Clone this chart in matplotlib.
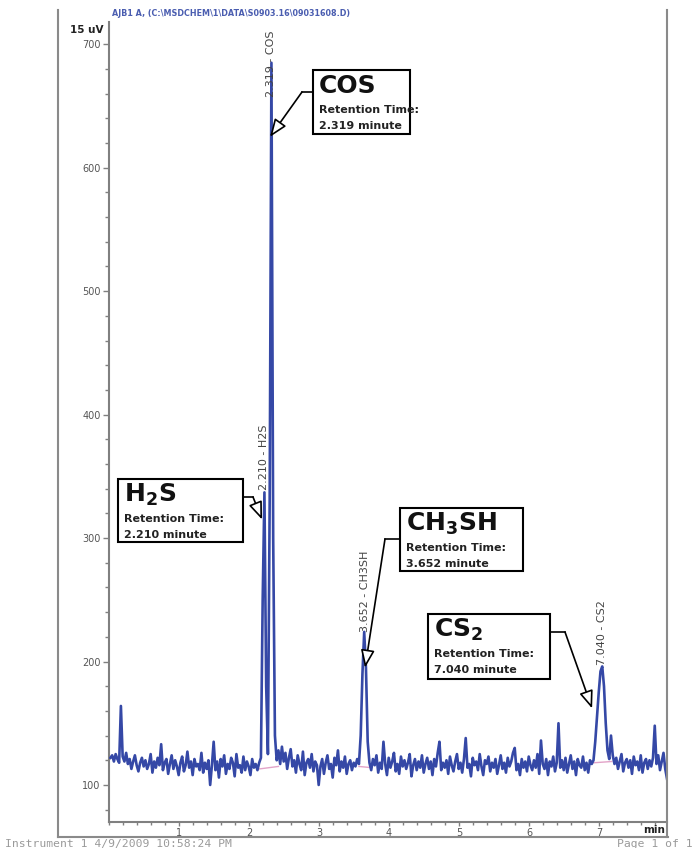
import numpy as np
import matplotlib
matplotlib.use('Agg')
import matplotlib.pyplot as plt
from matplotlib.lines import Line2D
from matplotlib.patches import Rectangle
from matplotlib.ticker import MultipleLocator

plt.rcParams['font.family'] = ['DejaVu Sans']
plt.rcParams['mathtext.fontset'] = 'dejavusans'

# ---------------- data ----------------
t_start, t_step = 0.02, 0.025
signal = [
    122, 124, 119, 125, 121, 118, 164, 123, 119, 126, 117, 121, 113, 119, 124, 116, 111, 118, 122, 115,
    120, 113, 117, 125, 110, 119, 114, 122, 116, 133, 112, 118, 121, 109, 117, 124, 113, 120, 115, 108,
    118, 123, 111, 116, 127, 114, 119, 108, 121, 115, 117, 112, 126, 110, 118, 113, 120, 100, 116, 135,
    112, 119, 106, 121, 115, 124, 109, 117, 113, 122, 118, 107, 125, 114, 116, 110, 123, 112, 119, 115,
    108, 121, 114, 117, 112, 118, 122, 250, 337, 180, 125, 330, 685, 300, 140, 120, 128, 117, 131, 119,
    126, 113, 122, 129, 115, 120, 110, 124, 117, 112, 127, 108, 118, 121, 114, 125, 111, 119, 116, 100,
    115, 121, 109, 118, 124, 113, 117, 106, 122, 116, 128, 111, 119, 114, 123, 109, 117, 120, 112, 118,
    115, 121, 117, 140, 190, 224, 195, 135, 118, 112, 121, 116, 124, 110, 118, 113, 135, 117, 108, 122,
    114, 119, 126, 111, 117, 109, 123, 115, 120, 113, 118, 125, 107, 116, 121, 112, 119, 114, 124, 110,
    117, 122, 113, 119, 108, 121, 115, 126, 135, 112, 118, 114, 120, 109, 123, 116, 111, 119, 125, 113,
    118, 110, 121, 138, 114, 117, 107, 122, 116, 119, 112, 125, 115, 108, 120, 117, 123, 111, 118, 114,
    121, 109, 116, 124, 113, 118, 110, 122, 115, 119, 126, 130, 112, 117, 108, 121, 114, 119, 111, 123,
    116, 112, 120, 114, 125, 109, 136, 117, 113, 121, 108, 119, 115, 123, 111, 118, 150, 114, 120, 112,
    122, 110, 117, 124, 113, 119, 108, 121, 116, 114, 123, 112, 118, 110, 120, 117, 120, 135, 155, 175,
    192, 196, 180, 150, 128, 121, 140, 124, 117, 122, 113, 119, 125, 111, 118, 121, 114, 120, 109, 123,
    116, 119, 112, 124, 110, 118, 121, 113, 120, 115, 122, 148, 117, 124, 112, 119, 126, 113, 105,
]
time = t_start + t_step * np.arange(len(signal))

peak_names = ['H2S', 'COS', 'CH3SH', 'CS2']
peak_rt = [2.210, 2.319, 3.652, 7.040]
peak_titles = [r'$\mathbf{H_2S}$', 'COS', r'$\mathbf{CH_3SH}$', r'$\mathbf{CS_2}$']

# integration baselines (start time, start value, end time, end value)
base_t0 = [2.15, 3.57, 6.93]
base_y0 = [113, 115, 118]
base_t1 = [2.42, 3.75, 7.18]
base_y1 = [115, 114, 119]

x_ticks = [1, 2, 3, 4, 5, 6, 7]
y_ticks = [100, 200, 300, 400, 500, 600, 700]

# ---------------- layout ----------------
W, H = 695, 848
fig = plt.figure(figsize=(W / 100, H / 100), dpi=100)
def fx(px): return px / W
def fy(py): return 1 - py / H

ax = fig.add_axes([fx(109), fy(822), fx(667) - fx(109), fy(22) - fy(822)])
ax.set_xlim(0, 7.97)
ax.set_ylim(70, 718)

line_col = '#3548a6'
ax.plot(time, signal, color=line_col, lw=1.9, zorder=3)
for a, b, c, d in zip(base_t0, base_y0, base_t1, base_y1):
    ax.plot([a, c], [b, d], color='#e2a3c8', lw=1.0, zorder=2)

for s in ['top', 'right']:
    ax.spines[s].set_visible(False)
for s in ['left', 'bottom']:
    ax.spines[s].set_color('#808080')
    ax.spines[s].set_linewidth(1.5)

ax.set_xticks(x_ticks)
ax.set_yticks(y_ticks)
ax.xaxis.set_minor_locator(MultipleLocator(0.2))
ax.yaxis.set_minor_locator(MultipleLocator(20))
ax.tick_params(which='both', direction='out', color='#808080', width=1,
               labelsize=7, labelcolor='#555555')
ax.tick_params(which='major', length=4, pad=2)
ax.tick_params(which='minor', length=3)
ax.tick_params(axis='x', which='major', length=3, pad=1)
ax.tick_params(axis='x', which='minor', length=2)

# rotated peak labels
label_base = [339, 657, 224, 197]
for name, rt, yb in zip(peak_names, peak_rt, label_base):
    ax.text(rt, yb, f'{rt:.3f} - {name}', rotation=90, ha='center', va='bottom',
            fontsize=8, color='#444444', zorder=4)

# annotation boxes: (left, top, right, bottom) px, side, elbow px, tip (data)
boxes = [
    (118, 479, 243, 542, 'right', (253, 497), (2.186, 315)),
    (313, 70, 410, 134, 'left', (302, 92), (2.30, 625)),
    (400, 508, 523, 571, 'left', (385, 539), (3.657, 195)),
    (428, 614, 550, 679, 'right', (565, 632), (6.90, 162)),
]
for (l, t, r, b, side, elbow, tip), title, rt in zip(boxes, peak_titles, peak_rt):
    rect = Rectangle((fx(l), fy(b)), fx(r) - fx(l), fy(t) - fy(b), transform=fig.transFigure,
                     facecolor='white', edgecolor='black', lw=1.5, zorder=5)
    fig.add_artist(rect)
    fig.text(fx(l + 6), fy(t + 16), title, fontsize=18, fontweight='bold', va='center',
             ha='left', color='#111111', zorder=6)
    fig.text(fx(l + 6), fy(t + 40), 'Retention Time:', fontsize=8, fontweight='bold',
             va='center', ha='left', color='#222222', zorder=6)
    fig.text(fx(l + 6), fy(t + 56), f'{rt:.3f} minute', fontsize=8, fontweight='bold',
             va='center', ha='left', color='#222222', zorder=6)
    ex = l if side == 'left' else r
    fig.add_artist(Line2D([fx(ex), fx(elbow[0])], [fy(elbow[1]), fy(elbow[1])],
                          color='black', lw=1.2, zorder=5))
    ax.annotate('', xy=tip, xycoords='data', xytext=(fx(elbow[0]), fy(elbow[1])),
                textcoords='figure fraction', annotation_clip=False,
                arrowprops=dict(arrowstyle='-|>,head_length=0.9,head_width=0.35',
                                fc='white', ec='black', lw=1.2, shrinkA=0, shrinkB=0,
                                mutation_scale=12), zorder=5)

# page frame
frame_col = '#8a8a8a'
fig.add_artist(Line2D([fx(58), fx(58)], [fy(10), fy(837)], color=frame_col, lw=1.5))
fig.add_artist(Line2D([fx(58), fx(668)], [fy(837), fy(837)], color=frame_col, lw=1.5))
fig.add_artist(Line2D([fx(667), fx(667)], [fy(10), fy(837)], color=frame_col, lw=1.5))

# header / footer texts
fig.text(fx(112), fy(13), r'AJB1 A, (C:\MSDCHEM\1\DATA\S0903.16\09031608.D)', fontsize=5.8,
         fontweight='bold', color='#4a5db0', va='center', ha='left')
fig.text(fx(103), fy(30), '15 uV', fontsize=7.5, fontweight='bold', color='#222222',
         va='center', ha='right')
fig.text(fx(665), fy(830), 'min', fontsize=7.5, fontweight='bold', color='#222222',
         va='center', ha='right')
fig.text(fx(5), fy(844), 'Instrument 1 4/9/2009 10:58:24 PM', fontsize=8.2,
         family='DejaVu Sans Mono', color='#9a9a9a', va='center', ha='left')
fig.text(fx(693), fy(844), 'Page 1 of 1', fontsize=8.2, family='DejaVu Sans Mono',
         color='#9a9a9a', va='center', ha='right')

fig.savefig('out.png', dpi=100)
